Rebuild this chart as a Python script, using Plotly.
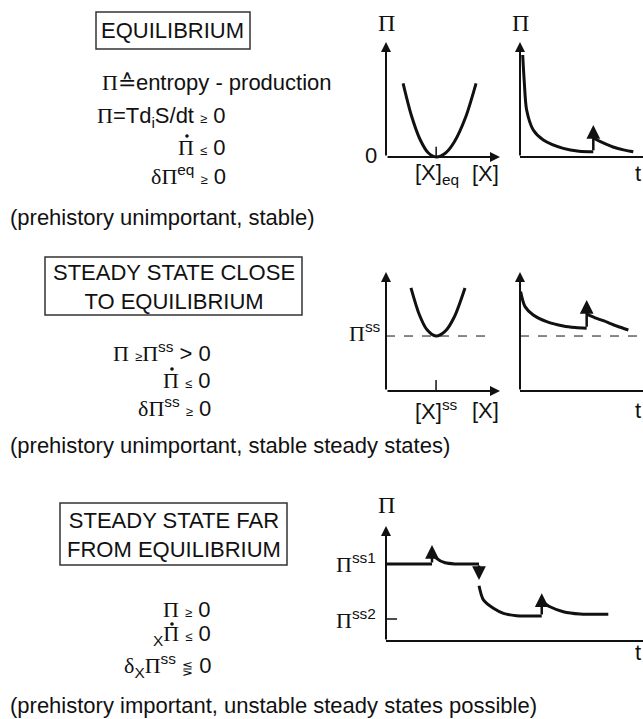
import plotly.graph_objects as go

W, H = 643, 719

# ---------------- data ----------------
# Panel 1: entropy production vs [X] at equilibrium
eq_x = [1.5, 2.2, 3.0, 3.7, 4.4, 5.2, 6.0, 7.0, 7.9]
eq_pi = [6.4, 3.7, 1.5, 0.37, 0.0, 0.33, 1.33, 3.5, 6.4]
X_EQ = 4.4

# Panel 2: Pi vs t at equilibrium (decay, perturbation, decay)
eq_t1 = [0.22, 0.35, 0.54, 1.08, 1.9, 3.52, 4.8, 5.96]
eq_pit1 = [8.87, 6.5, 4.09, 2.35, 1.48, 0.75, 0.5, 0.46]
eq_jump = (5.96, 0.46, 2.78)          # t, from, to
eq_t2 = [5.96, 6.5, 7.56, 8.5, 9.21]
eq_pit2 = [1.65, 1.35, 0.87, 0.6, 0.46]

# Panel 3: close to equilibrium, Pi vs [X]
ss_x = [2.19, 2.9, 3.6, 4.39, 5.2, 6.0, 6.93]
ss_pi = [8.66, 6.47, 5.14, 4.62, 5.03, 6.24, 8.66]
X_SS = 4.39
PI_SS = 4.62

# Panel 4: close to equilibrium, Pi vs t
ss_t1 = [0.05, 0.41, 1.08, 2.17, 3.52, 4.5, 5.42]
ss_pit1 = [8.35, 7.09, 6.39, 5.83, 5.46, 5.33, 5.27]
ss_jump = (5.42, 5.27, 7.65)
ss_t2 = [5.42, 6.1, 6.77, 7.86, 8.81]
ss_pit2 = [6.45, 6.15, 5.91, 5.46, 5.13]

# Panel 5: far from equilibrium, Pi vs t
PI_SS1 = 6.7
PI_SS2 = 1.91
far_ta = [0.0, 1.79]
far_pia = [6.7, 6.7]
far_jump1 = (1.79, 6.7, 8.35)
far_tb = [1.79, 1.97, 2.3, 2.7, 3.62]
far_pib = [7.77, 7.19, 6.8, 6.7, 6.7]
far_drop = (3.62, 6.7, 5.3)
far_tc = [3.62, 3.79, 4.18, 4.57, 5.08, 5.5, 6.06]
far_pic = [4.8, 3.57, 2.84, 2.4, 2.2, 2.17, 2.17]
far_jump2 = (6.06, 2.17, 4.15)
far_td = [6.08, 6.38, 6.9, 7.55, 8.65]
far_pid = [3.42, 2.98, 2.55, 2.35, 2.32]

# ---------------- layout helpers ----------------
SANS = "Liberation Sans, Arial, sans-serif"
SERIF = "Liberation Serif, Times New Roman, serif"
INK = "#111111"


def px(x):
    return x / W


def py(y):
    return 1 - y / H


PI = f'<span style="font-family:{SERIF}">Π</span>'
DELTA = f'<span style="font-family:{SERIF}">δ</span>'


def small(s):
    return f'<span style="font-size:13px">{s}</span>'


# panels: pixel positions of data 0 and 10 -> (left, right, bottom, top), plus visible ranges
panels = {
    1: ((386, 500, 157, 42), (-2.5, 11), (-2.5, 12.5)),
    2: ((520, 643, 157, 42), (-0.5, 10), (-2.5, 12.5)),
    3: ((386, 500, 391, 272), (-2.5, 11), (-2.5, 10.5)),
    4: ((520, 643, 391, 272), (-0.5, 10), (-2.5, 10.5)),
    5: ((386, 643, 641, 526), (-2, 10), (-2, 12.5)),
}

fig = go.Figure()
layout = dict(
    width=W, height=H,
    margin=dict(l=0, r=0, t=0, b=0, pad=0),
    paper_bgcolor="white", plot_bgcolor="rgba(0,0,0,0)",
    showlegend=False,
    font=dict(family=SANS, size=22, color=INK),
)
for k, ((l, r, b, t), xr, yr) in panels.items():
    sx = "" if k == 1 else str(k)
    s_x = (r - l) / 10.0
    s_y = (b - t) / 10.0
    dx = [max(0, px(l + xr[0] * s_x)), min(1, px(l + xr[1] * s_x))]
    dy = [max(0, py(b - yr[0] * s_y)), min(1, py(b - yr[1] * s_y))]
    layout[f"xaxis{sx}"] = dict(domain=dx, range=list(xr), visible=False,
                                fixedrange=True, anchor=f"y{sx}")
    layout[f"yaxis{sx}"] = dict(domain=dy, range=list(yr), visible=False,
                                fixedrange=True, anchor=f"x{sx}")
fig.update_layout(**layout)


def ax_ids(k):
    s = "" if k == 1 else str(k)
    return "x" + s, "y" + s


def line(k, xs, ys, width=3, dash=None, shape="spline"):
    xa, ya = ax_ids(k)
    fig.add_trace(go.Scatter(x=xs, y=ys, xaxis=xa, yaxis=ya, mode="lines",
                             line=dict(color=INK, width=width, dash=dash, shape=shape,
                                       smoothing=0.8),
                             hoverinfo="skip", cliponaxis=False))


annotations = []
shapes = []


def arrow(k, x0, y0, x1, y1, width=2.5, head=2, size=1.1):
    xa, ya = ax_ids(k)
    annotations.append(dict(x=x1, y=y1, ax=x0, ay=y0, xref=xa, yref=ya, axref=xa, ayref=ya,
                            text="", showarrow=True, arrowhead=head, arrowsize=size,
                            arrowwidth=width, arrowcolor=INK, standoff=0, startstandoff=0))


def label(k, x, y, text, xanchor="center", size=22, family=SANS):
    xa, ya = ax_ids(k)
    annotations.append(dict(x=x, y=y, xref=xa, yref=ya, text=text, showarrow=False,
                            xanchor=xanchor, yanchor="middle",
                            font=dict(size=size, family=family, color=INK)))


def ptext(x, y, text, xanchor="left", size=22, align="left"):
    annotations.append(dict(x=px(x), y=py(y), xref="paper", yref="paper", text=text,
                            showarrow=False, xanchor=xanchor, yanchor="middle", align=align,
                            font=dict(size=size, family=SANS, color=INK)))


def dot(x, y, r=1.8):
    # the time-derivative dot above Pi
    shapes.append(dict(type="circle", xref="paper", yref="paper",
                       x0=px(x - r), x1=px(x + r), y0=py(y + r), y1=py(y - r),
                       fillcolor=INK, line=dict(width=0)))


# ---- axes with arrows ----
for k in panels:
    arrow(k, 0, 0, 0, 10, width=2, head=2, size=1.0)      # y axis
for k in (1, 3):
    arrow(k, 0, 0, 10, 0, width=2, head=2, size=1.0)      # x axis with arrow
for k in (2, 4, 5):
    line(k, [0, 10], [0, 0], width=2, shape="linear")      # x axis to edge

# ---- panel 1 ----
line(1, eq_x, eq_pi)
line(1, [X_EQ, X_EQ], [0, 0.9], width=1.5, shape="linear")
label(1, 0, 11.65, "Π", family=SERIF, size=24)
label(1, -1.35, 0.1, "0")
label(1, X_EQ + 0.1, -1.45, "[X]<sub>eq</sub>")
label(1, 8.7, -1.45, "[X]")

# ---- panel 2 ----
line(2, eq_t1, eq_pit1)
arrow(2, eq_jump[0], eq_jump[1], eq_jump[0], eq_jump[2])
line(2, eq_t2, eq_pit2)
label(2, 0.08, 11.65, "Π", family=SERIF, size=24)
label(2, 9.6, -1.45, "t")

# ---- panel 3 ----
line(3, [0, 8.7], [PI_SS, PI_SS], width=1, dash="dash", shape="linear")
line(3, ss_x, ss_pi)
line(3, [X_SS, X_SS], [0, 0.92], width=1.5, shape="linear")
label(3, -0.25, PI_SS + 0.35, f"{PI}<sup>ss</sup>", xanchor="right")
label(3, X_SS, -1.6, "[X]<sup>ss</sup>")
label(3, 8.7, -1.6, "[X]")

# ---- panel 4 ----
line(4, [0, 10], [PI_SS, PI_SS], width=1, dash="dash", shape="linear")
line(4, ss_t1, ss_pit1)
arrow(4, ss_jump[0], ss_jump[1], ss_jump[0], ss_jump[2])
line(4, ss_t2, ss_pit2)
label(4, 9.6, -1.6, "t")

# ---- panel 5 ----
line(5, far_ta, far_pia, shape="linear")
arrow(5, far_jump1[0], far_jump1[1], far_jump1[0], far_jump1[2])
line(5, far_tb, far_pib)
arrow(5, far_drop[0], far_drop[1], far_drop[0], far_drop[2])
line(5, far_tc, far_pic)
arrow(5, far_jump2[0], far_jump2[1], far_jump2[0], far_jump2[2])
line(5, far_td, far_pid)
line(5, [0, 0.43], [PI_SS2, PI_SS2], width=1.5, shape="linear")
label(5, 0.03, 11.8, "Π", family=SERIF, size=24)
label(5, -0.3, PI_SS1 + 0.1, f"{PI}<sup>ss1</sup>", xanchor="right")
label(5, -0.3, PI_SS2, f"{PI}<sup>ss2</sup>", xanchor="right")
label(5, 9.8, -0.96, "t")

# ---------------- left column text ----------------


def box(x0, y0, x1, y1):
    shapes.append(dict(type="rect", xref="paper", yref="paper", x0=px(x0), x1=px(x1),
                       y0=py(y1), y1=py(y0), line=dict(color="#333333", width=1.5)))


box(96, 12, 250, 49)
ptext(173, 31, "EQUILIBRIUM", xanchor="center", align="center")
ptext(100, 82, f"{PI}≙entropy - production")
ptext(228, 117, f"{PI}=Td<sub>i</sub>S/dt {small('≥')} 0", xanchor="right")
ptext(228, 147, f"{PI} {small('≤')} 0", xanchor="right")
dot(187, 136)
ptext(228, 175, f"{DELTA}{PI}<sup>eq</sup> {small('≥')} 0", xanchor="right")
ptext(8, 217, "(prehistory unimportant, stable)")

box(45, 257, 302, 315)
ptext(173.5, 286.5, "STEADY STATE CLOSE<br>TO EQUILIBRIUM", xanchor="center", align="center")
ptext(213, 352, f"{PI} {small('≥')}{PI}<sup>ss</sup> &gt; 0", xanchor="right")
ptext(213, 380, f"{PI} {small('≤')} 0", xanchor="right")
dot(172, 369)
ptext(213, 407, f"{DELTA}{PI}<sup>ss</sup> {small('≥')} 0", xanchor="right")
ptext(8, 445, "(prehistory unimportant, stable steady states)")

box(60, 503, 287, 565)
ptext(173.5, 535, "STEADY STATE FAR<br>FROM EQUILIBRIUM", xanchor="center", align="center")
ptext(213, 609, f"{PI} {small('≥')} 0", xanchor="right")
ptext(213, 635, f"<sub>X</sub>{PI} {small('≤')} 0", xanchor="right")
dot(172, 624)
ptext(213, 665, f"{DELTA}<sub>X</sub>{PI}<sup>ss</sup> {small('⋚')} 0", xanchor="right")
ptext(8, 705, "(prehistory important, unstable steady states possible)")

fig.update_layout(annotations=annotations, shapes=shapes)
fig.write_html("out.html", config={"displayModeBar": False},
               post_script="document.body.style.margin='0';")
